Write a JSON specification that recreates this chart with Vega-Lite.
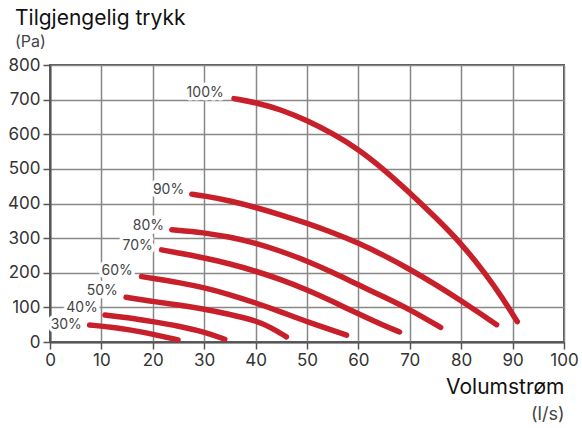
{
  "$schema": "https://vega.github.io/schema/vega-lite/v6.json",
  "width": 514,
  "height": 277,
  "autosize": "none",
  "padding": {"left": 50, "top": 65, "right": 18, "bottom": 86},
  "background": "white",
  "config": {
    "font": "Inter",
    "view": {"stroke": "#555555", "strokeWidth": 2}
  },
  "title": {
    "text": "Tilgjengelig trykk",
    "subtitle": "(Pa)",
    "anchor": "start",
    "frame": "group",
    "dx": -35,
    "offset": 6,
    "fontSize": 21,
    "fontWeight": "normal",
    "color": "#111111",
    "subtitleFontSize": 16,
    "subtitleColor": "#444444",
    "subtitlePadding": 5
  },
  "datasets": {
    "curves": [
      {"s": "100%", "x": 35.8, "y": 703}, {"s": "100%", "x": 40, "y": 692}, {"s": "100%", "x": 45, "y": 671}, {"s": "100%", "x": 50, "y": 640}, {"s": "100%", "x": 55, "y": 602}, {"s": "100%", "x": 60, "y": 557}, {"s": "100%", "x": 65, "y": 498}, {"s": "100%", "x": 70, "y": 431}, {"s": "100%", "x": 75, "y": 360}, {"s": "100%", "x": 80, "y": 285}, {"s": "100%", "x": 85, "y": 192}, {"s": "100%", "x": 88, "y": 128}, {"s": "100%", "x": 90.9, "y": 59},
      {"s": "90%", "x": 27.6, "y": 427}, {"s": "90%", "x": 30, "y": 422}, {"s": "90%", "x": 35, "y": 408}, {"s": "90%", "x": 40, "y": 389}, {"s": "90%", "x": 45, "y": 367}, {"s": "90%", "x": 50, "y": 343}, {"s": "90%", "x": 55, "y": 316}, {"s": "90%", "x": 60, "y": 286}, {"s": "90%", "x": 65, "y": 250}, {"s": "90%", "x": 70, "y": 210}, {"s": "90%", "x": 75, "y": 166}, {"s": "90%", "x": 80, "y": 119}, {"s": "90%", "x": 86.9, "y": 50},
      {"s": "80%", "x": 23.7, "y": 324}, {"s": "80%", "x": 30, "y": 316}, {"s": "80%", "x": 35, "y": 303}, {"s": "80%", "x": 40, "y": 286}, {"s": "80%", "x": 45, "y": 262}, {"s": "80%", "x": 50, "y": 234}, {"s": "80%", "x": 55, "y": 201}, {"s": "80%", "x": 60, "y": 165}, {"s": "80%", "x": 65, "y": 130}, {"s": "80%", "x": 70, "y": 94}, {"s": "80%", "x": 76, "y": 42},
      {"s": "70%", "x": 21.7, "y": 266}, {"s": "70%", "x": 25, "y": 257}, {"s": "70%", "x": 30, "y": 243}, {"s": "70%", "x": 35, "y": 226}, {"s": "70%", "x": 40, "y": 205}, {"s": "70%", "x": 45, "y": 180}, {"s": "70%", "x": 50, "y": 151}, {"s": "70%", "x": 55, "y": 117}, {"s": "70%", "x": 60, "y": 81}, {"s": "70%", "x": 65, "y": 47}, {"s": "70%", "x": 68, "y": 29},
      {"s": "60%", "x": 17.8, "y": 189}, {"s": "60%", "x": 20, "y": 184}, {"s": "60%", "x": 25, "y": 172}, {"s": "60%", "x": 30, "y": 157}, {"s": "60%", "x": 35, "y": 137}, {"s": "60%", "x": 40, "y": 113}, {"s": "60%", "x": 45, "y": 87}, {"s": "60%", "x": 50, "y": 58}, {"s": "60%", "x": 57.7, "y": 20},
      {"s": "50%", "x": 14.8, "y": 129}, {"s": "50%", "x": 20, "y": 117}, {"s": "50%", "x": 25, "y": 107}, {"s": "50%", "x": 30, "y": 95}, {"s": "50%", "x": 35, "y": 80}, {"s": "50%", "x": 40, "y": 62}, {"s": "50%", "x": 43, "y": 42}, {"s": "50%", "x": 46, "y": 15},
      {"s": "40%", "x": 10.7, "y": 78}, {"s": "40%", "x": 15, "y": 71}, {"s": "40%", "x": 20, "y": 59}, {"s": "40%", "x": 25, "y": 46}, {"s": "40%", "x": 30, "y": 29}, {"s": "40%", "x": 34, "y": 8},
      {"s": "30%", "x": 7.7, "y": 49}, {"s": "30%", "x": 12, "y": 43}, {"s": "30%", "x": 15.6, "y": 35}, {"s": "30%", "x": 20, "y": 23}, {"s": "30%", "x": 24.9, "y": 6}
    ],
    "labels": [
      {"s": "100%", "x": 33.8, "y": 720},
      {"s": "90%", "x": 26.1, "y": 440},
      {"s": "80%", "x": 22.2, "y": 336},
      {"s": "70%", "x": 20.0, "y": 276},
      {"s": "60%", "x": 16.1, "y": 206},
      {"s": "50%", "x": 13.2, "y": 148},
      {"s": "40%", "x": 9.3, "y": 98},
      {"s": "30%", "x": 6.2, "y": 49}
    ]
  },
  "encoding": {
    "y": {
      "field": "y",
      "type": "quantitative",
      "scale": {"domain": [0, 800], "nice": false, "zero": true},
      "axis": {
        "values": [0, 100, 200, 300, 400, 500, 600, 700, 800],
        "title": null,
        "grid": true,
        "gridColor": "#888888",
        "gridWidth": 1.5,
        "domainColor": "#555555",
        "domainWidth": 2,
        "tickColor": "#555555",
        "tickWidth": 1.5,
        "tickSize": 7,
        "labelFontSize": 17,
        "labelColor": "#333333",
        "labelPadding": 3,
        "labelFlush": false
      }
    }
  },
  "layer": [
    {
      "data": {"name": "curves"},
      "mark": {"type": "line", "color": "#c8202a", "strokeWidth": 5.5, "strokeCap": "round", "strokeJoin": "round", "interpolate": "basis"},
      "encoding": {
        "x": {
          "field": "x",
          "type": "quantitative",
          "scale": {"domain": [0, 100], "nice": false},
          "axis": {
            "values": [0, 10, 20, 30, 40, 50, 60, 70, 80, 90, 100],
            "grid": true,
            "gridColor": "#888888",
            "gridWidth": 1.5,
            "domainColor": "#555555",
            "domainWidth": 2,
            "tickColor": "#555555",
            "tickWidth": 1.5,
            "tickSize": 7,
            "labelFontSize": 17,
            "labelColor": "#333333",
            "labelPadding": 3,
            "labelFlush": false,
            "title": "Volumstrøm",
            "titleFontSize": 21,
            "titleFontWeight": "normal",
            "titleColor": "#111111",
            "titleAlign": "right",
            "titleAnchor": "end",
            "titleBaseline": "alphabetic",
            "titleX": 514,
            "titleY": 51
          }
        },
        "detail": {"field": "s", "type": "nominal"}
      }
    },
    {
      "data": {"name": "labels"},
      "mark": {"type": "text", "align": "right", "baseline": "middle", "fontSize": 14, "stroke": "white", "strokeWidth": 7, "strokeJoin": "round", "fill": "white"},
      "encoding": {
        "x": {
          "field": "x",
          "type": "quantitative",
          "axis": {
            "orient": "bottom",
            "labels": false,
            "ticks": false,
            "domain": false,
            "grid": false,
            "title": "(l/s)",
            "titleFontSize": 18,
            "titleFontWeight": "normal",
            "titleColor": "#444444",
            "titleAlign": "right",
            "titleAnchor": "end",
            "titleBaseline": "alphabetic",
            "titleX": 514,
            "titleY": 77
          }
        },
        "text": {"field": "s", "type": "nominal"}
      }
    },
    {
      "data": {"name": "labels"},
      "mark": {"type": "text", "align": "right", "baseline": "middle", "fontSize": 14, "color": "#444444"},
      "encoding": {
        "x": {"field": "x", "type": "quantitative", "axis": null},
        "text": {"field": "s", "type": "nominal"}
      }
    }
  ],
  "resolve": {"axis": {"x": "independent"}}
}
